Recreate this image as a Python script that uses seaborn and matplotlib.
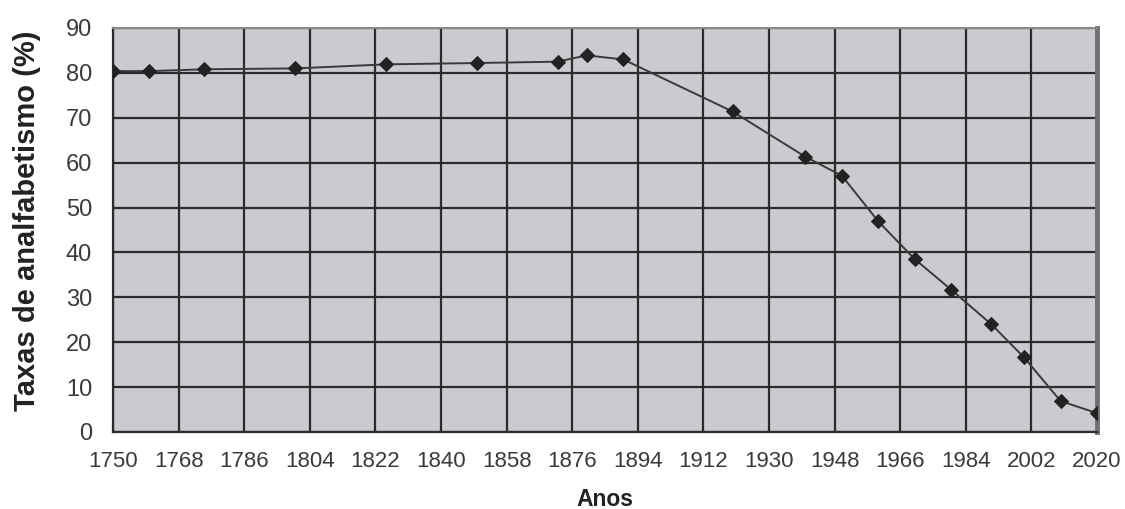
import matplotlib
matplotlib.use("Agg")
import matplotlib.pyplot as plt
import seaborn as sns
import pandas as pd

years = [1750, 1760, 1775, 1800, 1825, 1850, 1872, 1880, 1890, 1920,
         1940, 1950, 1960, 1970, 1980, 1991, 2000, 2010, 2020]
rates = [80.4, 80.4, 80.8, 81.0, 81.9, 82.2, 82.5, 83.9, 83.0, 71.4,
         61.3, 57.1, 46.9, 38.5, 31.7, 24.0, 16.6, 6.9, 4.2]
x_ticks = [1750, 1768, 1786, 1804, 1822, 1840, 1858, 1876, 1894, 1912,
           1930, 1948, 1966, 1984, 2002, 2020]
y_ticks = [0, 10, 20, 30, 40, 50, 60, 70, 80, 90]

sns.set_style("white")
plt.rcParams['font.family'] = ['Liberation Sans', 'DejaVu Sans']

df = pd.DataFrame({"Anos": years, "Taxa": rates})

fig = plt.figure(figsize=(11.25, 5.09), dpi=100)
ax = fig.add_axes([113/1125, 1-432/509, (1097-113)/1125, (432-28)/509])
ax.set_facecolor("#c9cbcf")

sns.lineplot(data=df, x="Anos", y="Taxa", ax=ax, color="#3a3a3a", lw=1.4,
             marker="D", markersize=7, markerfacecolor="#222222",
             markeredgecolor="#222222", zorder=5)

ax.set_xlim(1750, 2020)
ax.set_ylim(0, 90)
ax.set_xticks(x_ticks)
ax.set_yticks(y_ticks)
ax.grid(True, color="#2b2b2b", lw=1.6)
ax.set_axisbelow(True)

ax.tick_params(axis="both", direction="out", length=6, width=1.2, color="#333333",
               labelcolor="#3a3a3a")
ax.tick_params(axis="y", labelsize=17, pad=9)
ax.tick_params(axis="x", labelsize=16, pad=8)

for s in ["left", "bottom"]:
    ax.spines[s].set_color("#2b2b2b")
    ax.spines[s].set_linewidth(1.6)
ax.spines["top"].set_color("#8a8a8a")
ax.spines["top"].set_linewidth(1.5)
ax.spines["right"].set_color("#6f6f6f")
ax.spines["right"].set_linewidth(3.5)

ax.set_ylabel("Taxas de analfabetismo (%)", fontsize=21, fontweight="bold",
              color="#222222", va="center")
ax.set_xlabel("Anos", fontsize=16.5, fontweight="bold", color="#222222", va="center")
ax.yaxis.set_label_coords((27 - 113) / 984, (432 - 221) / 404)
ax.xaxis.set_label_coords(0.5, (432 - 499) / 404)

fig.savefig("out.png", dpi=100)
